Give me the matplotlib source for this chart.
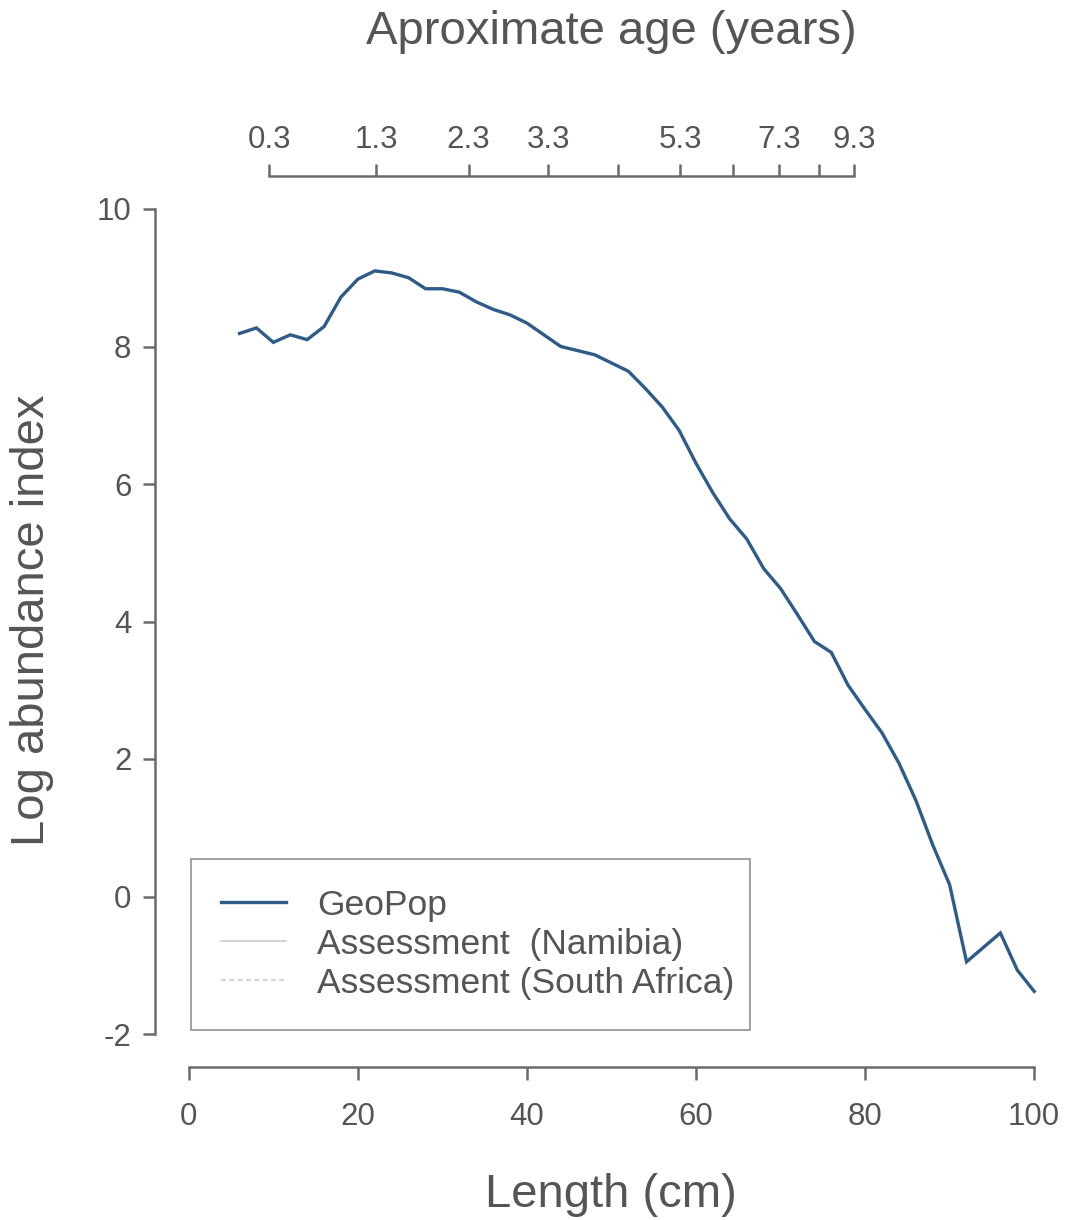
import matplotlib
matplotlib.use("Agg")
import matplotlib.pyplot as plt
from matplotlib.lines import Line2D

plt.rcParams['font.family'] = ['Liberation Sans', 'DejaVu Sans']

# ---- data ----
length_cm = [6, 8, 10, 12, 14, 16, 18, 20, 22, 24, 26, 28, 30, 32, 34, 36, 38, 40,
             42, 44, 46, 48, 50, 52, 54, 56, 58, 60, 62, 64, 66, 68, 70, 72, 74, 76,
             78, 80, 82, 84, 86, 88, 90, 92, 94, 96, 98, 100]
geopop = [8.19, 8.27, 8.06, 8.17, 8.10, 8.29, 8.72, 8.98, 9.10, 9.07, 9.00, 8.84,
          8.84, 8.79, 8.65, 8.54, 8.46, 8.34, 8.17, 8.00, 7.94, 7.88, 7.76, 7.64,
          7.39, 7.12, 6.78, 6.30, 5.87, 5.49, 5.20, 4.77, 4.48, 4.10, 3.71, 3.55,
          3.07, 2.72, 2.38, 1.94, 1.40, 0.75, 0.17, -0.95, -0.74, -0.53, -1.07, -1.38]

age_years = [0.3, 1.3, 2.3, 3.3, 4.3, 5.3, 6.3, 7.3, 8.3, 9.3]
age_length = [9.5, 22.2, 33.1, 42.5, 50.8, 58.1, 64.4, 69.8, 74.6, 78.7]
age_labels = ["0.3", "1.3", "2.3", "3.3", "", "5.3", "", "7.3", "", "9.3"]

x_ticks = [0, 20, 40, 60, 80, 100]
y_ticks = [-2, 0, 2, 4, 6, 8, 10]

series_names = ["GeoPop", "Assessment  (Namibia)", "Assessment (South Africa)"]

# ---- styling ----
W, H = 1066, 1220
axis_col = "#6b6b6b"
text_col = "#555555"
line_col = "#2f5b88"

fig = plt.figure(figsize=(W / 100, H / 100), dpi=100)
L, R, T, B = 155, 1068, 176, 1067
ax = fig.add_axes([L / W, 1 - B / H, (R - L) / W, (B - T) / H])

ax.plot(length_cm, geopop, color=line_col, lw=2.4, solid_joinstyle='miter')

ax.set_xlim(-4, 104)
ax.set_ylim(-2.48, 10.48)

for s in ["top", "right"]:
    ax.spines[s].set_visible(False)
ax.spines["left"].set_bounds(-2, 10)
ax.spines["bottom"].set_bounds(0, 100)
for s in ["left", "bottom"]:
    ax.spines[s].set_color(axis_col)
    ax.spines[s].set_linewidth(1.8)

ax.set_xticks(x_ticks)
ax.set_yticks(y_ticks)
ax.set_yticklabels([str(v) for v in y_ticks])
ax.tick_params(axis='both', colors=axis_col, labelcolor=text_col, labelsize=22.5,
               length=9, width=1.8, direction='out')
ax.tick_params(axis='x', pad=16)
ax.tick_params(axis='y', pad=8)

ax2 = ax.twiny()
ax2.set_xlim(ax.get_xlim())
for s in ["bottom", "left", "right"]:
    ax2.spines[s].set_visible(False)
ax2.spines["top"].set_bounds(age_length[0], age_length[-1])
ax2.spines["top"].set_color(axis_col)
ax2.spines["top"].set_linewidth(1.8)
ax2.set_xticks(age_length)
ax2.set_xticklabels(age_labels)
ax2.tick_params(axis='x', colors=axis_col, labelcolor=text_col, labelsize=22.5,
                length=9, width=1.8, direction='out', pad=6)

fig.text(611 / W, 1 - 1195 / H, "Length (cm)", ha='center', va='center',
         fontsize=34, color=text_col)
fig.text(611 / W, 1 - 32 / H, "Aproximate age (years)", ha='center', va='center',
         fontsize=34, color=text_col)
fig.text(32 / W, 1 - 620 / H, "Log abundance index", ha='center', va='center',
         rotation=90, fontsize=34, color=text_col)

handles = [Line2D([], [], color=line_col, lw=2.4),
           Line2D([], [], color="#cccccc", lw=1.2),
           Line2D([], [], color="#cccccc", lw=1.2, ls=(0, (3, 2)))]
x0 = (191 - L) / (R - L)
y0 = (B - 1030) / (B - T)
w = (750 - 191) / (R - L)
h = (1030 - 862) / (B - T)
leg = ax.legend(handles, series_names, loc='lower left',
                bbox_to_anchor=(x0, y0, w, h), mode='expand', borderaxespad=0,
                fontsize=25.5, frameon=True, fancybox=False, borderpad=0.85,
                handlelength=1.84, handletextpad=0.88, labelspacing=0.17,
                labelcolor=text_col)
leg.get_frame().set_edgecolor("#777777")
leg.get_frame().set_linewidth(1.2)

fig.savefig("out.png", dpi=100, facecolor='white')
